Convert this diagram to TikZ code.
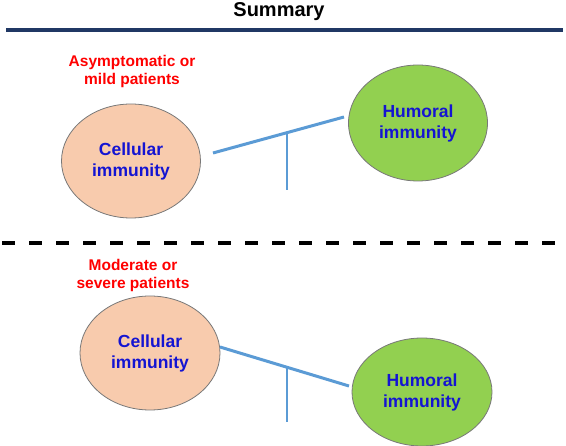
\documentclass[tikz,border=0pt]{standalone}
\usepackage{fontspec}
\setmainfont{Liberation Sans}
\usepackage{xcolor}
\usepackage{tikz}
\usetikzlibrary{positioning,shapes.geometric}

\definecolor{peach}{RGB}{248,203,173}
\definecolor{leafgreen}{RGB}{146,208,80}
\definecolor{navyrule}{RGB}{32,56,100}
\definecolor{leverblue}{RGB}{91,155,213}
\definecolor{textblue}{RGB}{20,20,210}
\definecolor{rimgray}{RGB}{120,120,120}

\begin{document}
\begin{tikzpicture}[x=1pt, y=-1pt,
    cell/.style={ellipse, draw=rimgray, line width=0.8pt, fill=peach, inner sep=0pt,
        minimum width=139pt, minimum height=114pt, align=center,
        font=\fontsize{17.5}{21}\selectfont\bfseries, text=textblue},
    humor/.style={cell, fill=leafgreen},
    group/.style={font=\fontsize{15.5}{18}\selectfont\bfseries, text=red, align=center},
    lever/.style={draw=leverblue, line width=3pt},
    post/.style={draw=leverblue, line width=2pt}]

\useasboundingbox (0,0) rectangle (566,446);

% Title and rule
\node[anchor=base, font=\fontsize{20}{24}\selectfont\bfseries] (title) at (279,17) {Summary};
\draw[navyrule, line width=3.3pt] (6,30) -- (563,30);

% Upper half: asymptomatic or mild
\node[group] (mild) at (132,71) {Asymptomatic or\\mild patients};
\node[cell] (cellA) at (131,161) {Cellular\\immunity};
\node[humor, minimum height=116pt] (humA) at (418,123) {Humoral\\immunity};

% Balance tilted towards humoral side
\coordinate (leverAL) at (213,153);
\coordinate (leverAR) at (344,117);
\coordinate (pivotA) at (287,133);
\coordinate (footA) at (287,190);
\draw[lever] (leverAL) -- (leverAR);
\draw[post] (pivotA) -- (footA);

% Separator
\draw[black, line width=4pt, dash pattern=on 13pt off 14pt] (2,243) -- (566,243);

% Lower half: moderate or severe
\node[group] (severe) at (133,275) {Moderate or\\severe patients};
\node[cell, minimum width=140pt] (cellB) at (150,353) {Cellular\\immunity};
\node[humor, minimum width=140pt, minimum height=108pt] (humB) at (422,392) {Humoral\\immunity};

% Balance tilted towards cellular side
\coordinate (leverBL) at (220,347);
\coordinate (leverBR) at (349,386);
\coordinate (pivotB) at (287,367);
\coordinate (footB) at (287,422);
\draw[lever] (leverBL) -- (leverBR);
\draw[post] (pivotB) -- (footB);

\end{tikzpicture}
\end{document}
